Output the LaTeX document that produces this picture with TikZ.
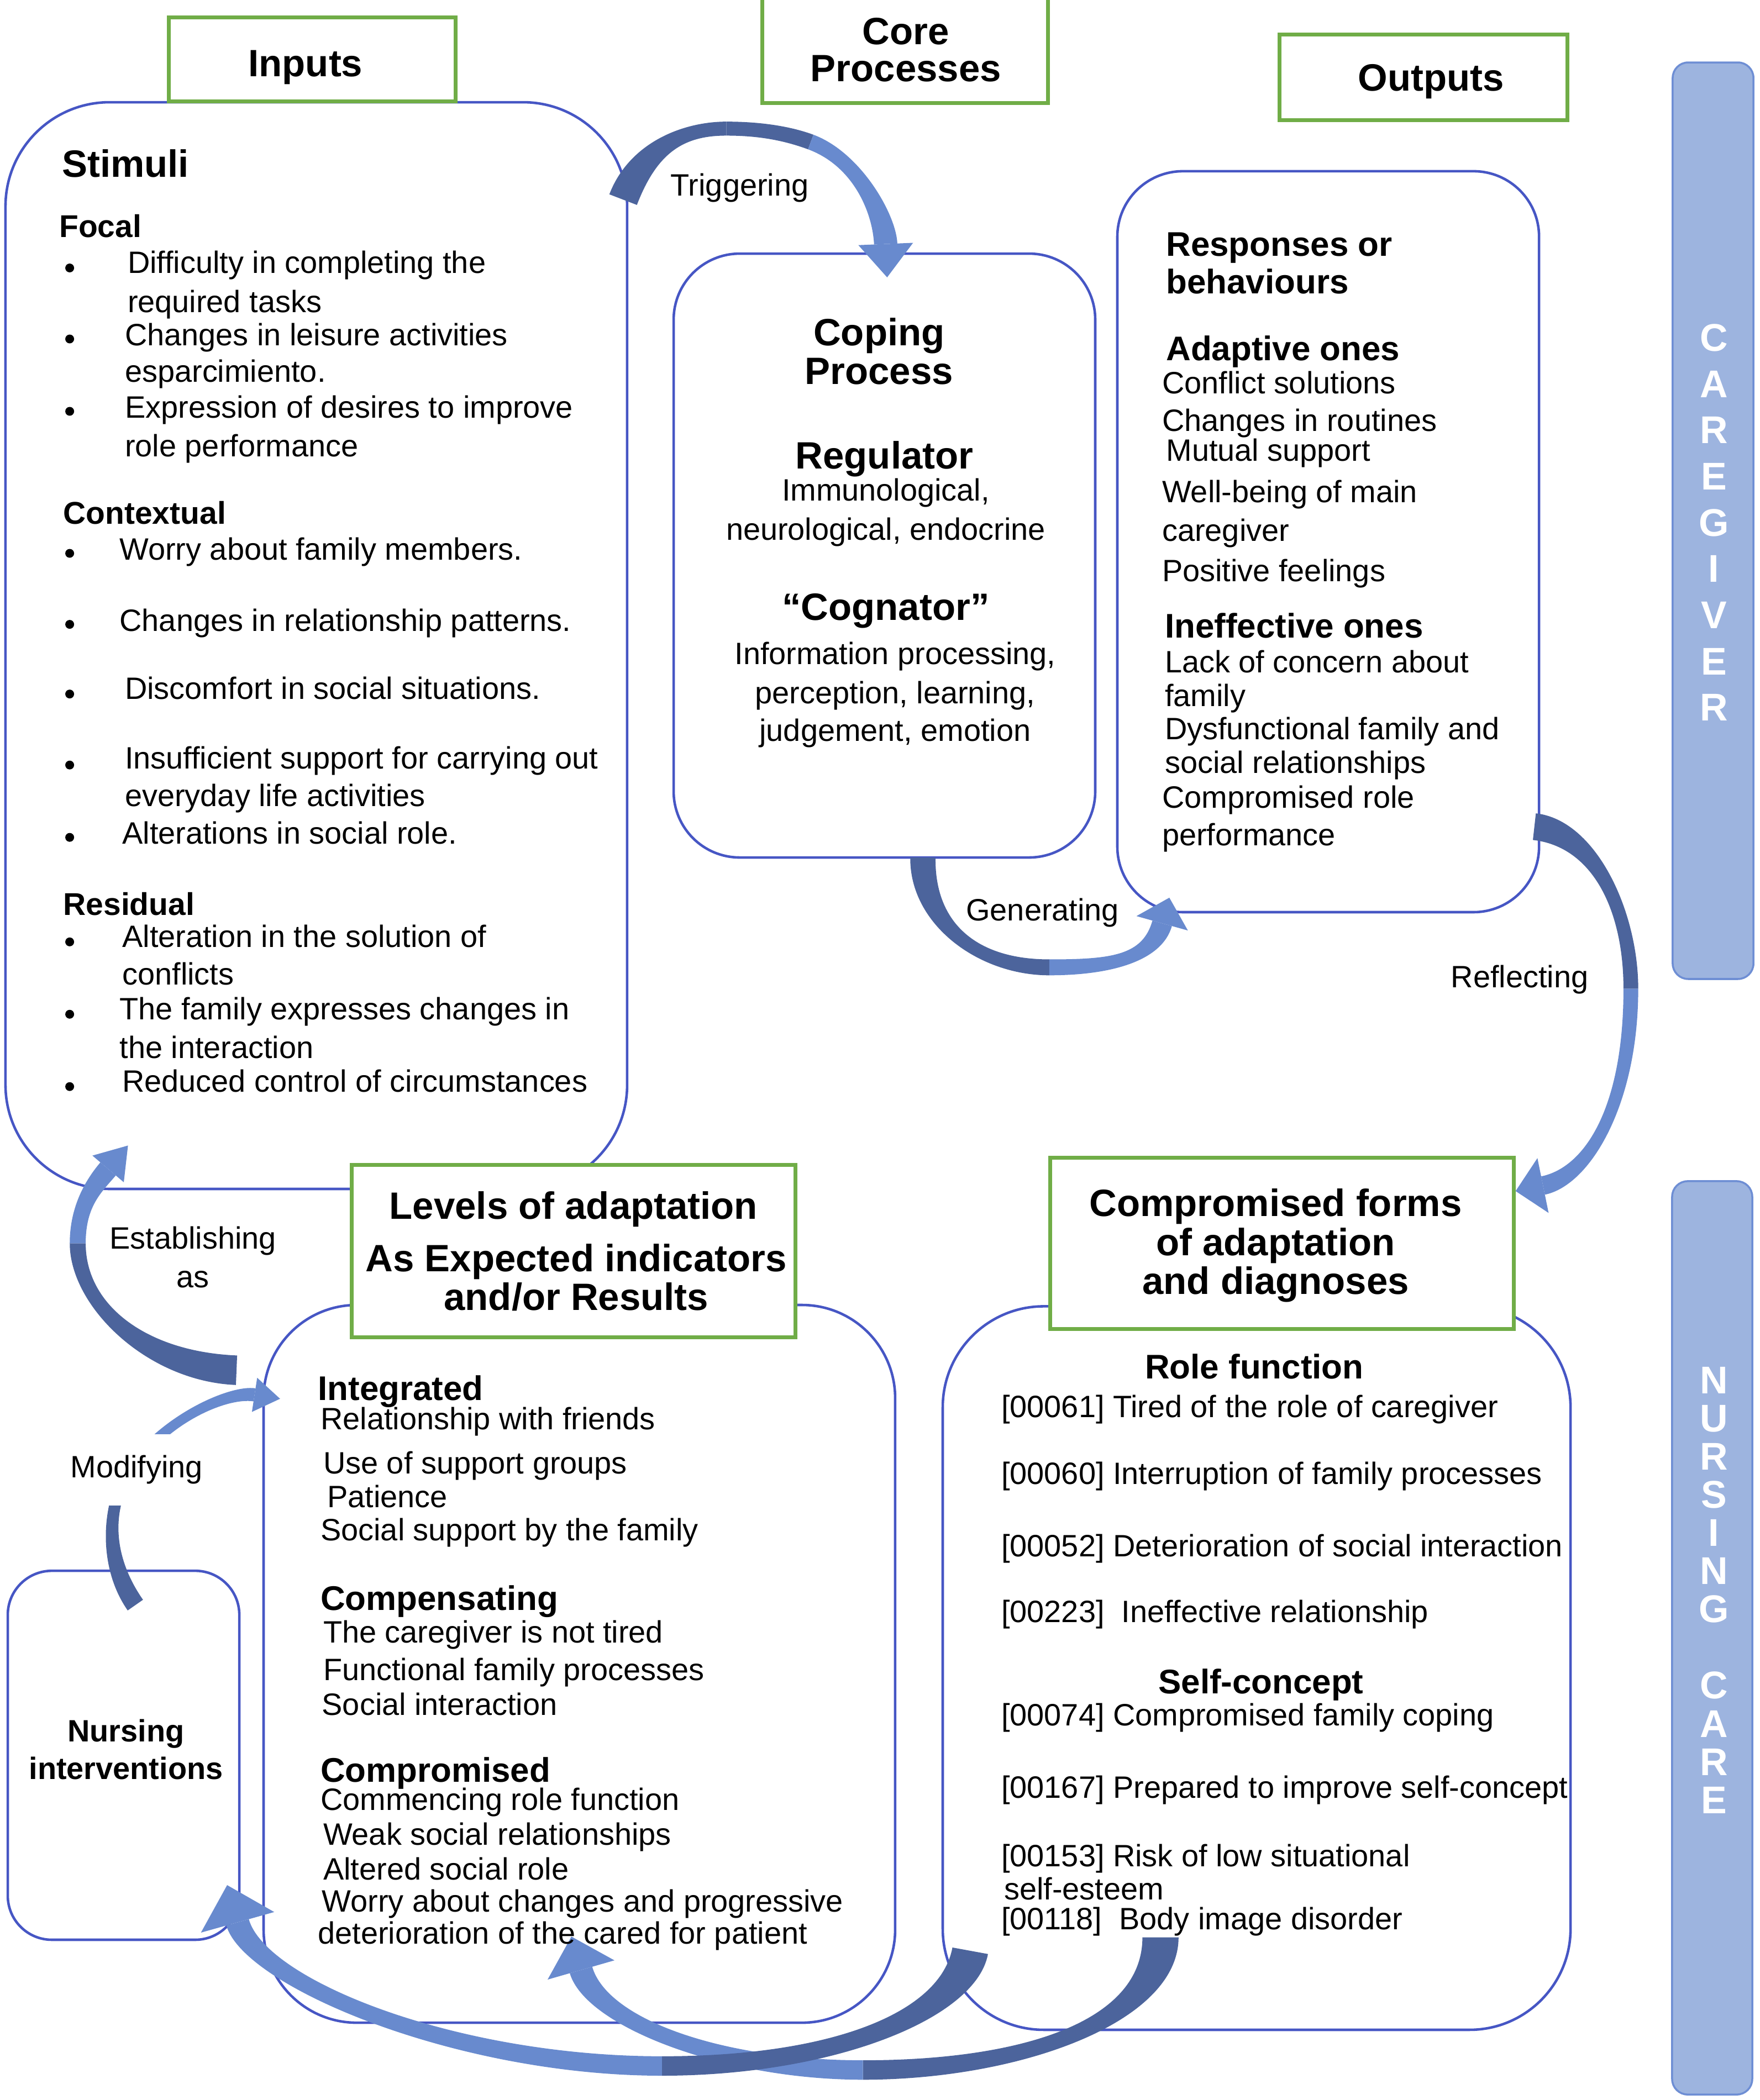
\documentclass[tikz,border=0pt]{standalone}
\usepackage{fontspec}
\setmainfont{Liberation Sans}
\usetikzlibrary{arrows.meta,fit,calc}
\definecolor{boxblue}{RGB}{70,86,196}
\definecolor{grn}{RGB}{112,173,71}
\definecolor{adark}{RGB}{76,100,156}
\definecolor{alight}{RGB}{104,138,206}
\definecolor{barfill}{RGB}{157,180,223}
\definecolor{barline}{RGB}{110,142,212}
\newcommand\fbody{\fontsize{15.9}{19}\selectfont}
\newcommand\fsub{\fontsize{17.6}{21}\selectfont\bfseries}
\newcommand\fhead{\fontsize{19.6}{23}\selectfont\bfseries}
\newcommand\fsh{\fontsize{16.2}{19}\selectfont\bfseries}
\newcommand\fbar{\fontsize{19.9}{23}\selectfont\bfseries}
% tapered band along a cubic curve: P0, P1, P2, P3, half-width start, half-width end, colour
\newcommand\band[7]{%
  \coordinate (b0) at (#1); \coordinate (b1) at (#2);
  \coordinate (b2) at (#3); \coordinate (b3) at (#4);
  \coordinate (o0) at ($(b0)!#5!90:(b1)$);
  \coordinate (i0) at ($(b0)!#5!-90:(b1)$);
  \coordinate (o3) at ($(b3)!#6!-90:(b2)$);
  \coordinate (i3) at ($(b3)!#6!90:(b2)$);
  \fill[#7] (o0) .. controls ($(b1)+(o0)-(b0)$) and ($(b2)+(o3)-(b3)$) .. (o3)
    -- (i3) .. controls ($(b2)+(i3)-(b3)$) and ($(b1)+(i0)-(b0)$) .. (i0) -- cycle;}
% arrow head: tip, point it comes from, length, half-width, colour; defines (hc)
\newcommand\ahead[5]{%
  \coordinate (hc) at ($(#1)!#3!(#2)$);
  \fill[#5] (#1) -- ($(hc)!#4!90:(#1)$) -- ($(hc)!#4!-90:(#1)$) -- cycle;}
\begin{document}
\begin{tikzpicture}[x=0.2425mm,y=-0.2425mm,
  bbox/.style={draw=boxblue,line width=1.3pt,inner sep=0pt},
  gbox/.style={draw=grn,line width=2pt,fill=white,inner sep=0pt},
  barbox/.style={draw=barline,fill=barfill,line width=1pt,inner sep=0pt,rounded corners=8pt},
  barl/.style={inner sep=0pt,anchor=base,font=\fbar,text=white},
  tl/.style={inner sep=0pt,anchor=base west,font=\fbody},
  tc/.style={inner sep=0pt,anchor=base,font=\fbody},
  sl/.style={inner sep=0pt,anchor=base west,font=\fsub},
  sc/.style={inner sep=0pt,anchor=base,font=\fsub},
  hl/.style={inner sep=0pt,anchor=base west,font=\fhead},
  hc/.style={inner sep=0pt,anchor=base,font=\fhead},
  ml/.style={inner sep=0pt,anchor=base west,font=\fsh},
  bul/.style={fill=black}
]
\useasboundingbox (0,0) rectangle (1313,1567.4);

% side bars
\node[barbox, fit={(1248.2,46.6) (1308.5,730.7)}] (cgbar) {};
\node[barbox, fit={(1247.8,881.6) (1307.6,1563.3)}] (ncbar) {};
\foreach \l [count=\i] in {C,A,R,E,G,I,V,E,R}
  \node[barl] (cg\i) at (1279,{262+34.5*(\i-1)}) {\l};
\foreach \l [count=\i] in {N,U,R,S,I,N,G}
  \node[barl] (nu\i) at (1279,{1040+28.5*(\i-1)}) {\l};
\foreach \l [count=\i] in {C,A,R,E}
  \node[barl] (ca\i) at (1279,{1268+28.5*(\i-1)}) {\l};

% blue rounded boxes
\node[bbox, rounded corners=53.6pt, fit={(4.1,76.3) (468,887.4)}] (stim) {};
\node[bbox, rounded corners=34pt, fit={(502.7,189.3) (817.3,640)}] (cope) {};
\node[bbox, rounded corners=33.7pt, fit={(833.8,127.8) (1148.5,680.8)}] (resp) {};
\node[bbox, rounded corners=48pt, fit={(196.7,974) (668,1509.7)}] (levl) {};
\node[bbox, rounded corners=52pt, fit={(703.5,975) (1172,1515)}] (comp) {};
\node[bbox, rounded corners=22.7pt, fit={(5.8,1172.4) (178.6,1447.8)}] (nurs) {};

% green header boxes
\node[gbox, fit={(125.8,12.8) (339.8,75.5)}] (inbox) {};
\node[gbox, fit={(568.7,-4) (781.9,76.9)}] (corebox) {};
\node[gbox, fit={(955,25.6) (1169.6,89.5)}] (outbox) {};
\node[gbox, fit={(262.3,869.3) (593.4,998)}] (lvlg) {};
\node[gbox, fit={(783.5,863.9) (1129.5,991.8)}] (compg) {};

% Triggering arrow
\coordinate (tgA) at (465,149); \coordinate (tgT) at (542,96);
\coordinate (tgM) at (605,106); \coordinate (tgB) at (662,207);
\band{tgA}{480,110}{510,96}{tgT}{7.6pt}{3.6pt}{adark}
\band{tgT}{565,96}{586,99}{tgM}{3.6pt}{4pt}{adark}
\ahead{tgB}{660,160}{17.2pt}{14.1pt}{alight}
\band{tgM}{640,119}{660,160}{hc}{4pt}{6pt}{alight}

% Generating arrow
\coordinate (gnA) at (688.7,640); \coordinate (gnM) at (783,722); \coordinate (gnB) at (872.6,670);
\band{gnA}{688,690}{730,722}{gnM}{6.5pt}{4.1pt}{adark}
\ahead{gnB}{860,715}{13.7pt}{13.75pt}{alight}
\band{gnM}{830,722}{860,715}{hc}{4.1pt}{5.2pt}{alight}

% Reflecting arrow
\coordinate (rfA) at (1145,617); \coordinate (rfM) at (1217,738); \coordinate (rfB) at (1131,889);
\band{rfA}{1190,622}{1217,680}{rfM}{6.9pt}{3.8pt}{adark}
\ahead{rfB}{1185,878}{14.4pt}{14.4pt}{alight}
\band{rfM}{1217,825}{1185,878}{hc}{3.8pt}{4.8pt}{alight}

% Establishing arrow
\coordinate (esA) at (176.5,1022.7); \coordinate (esM) at (58,928); \coordinate (esB) at (95.5,855);
\band{esA}{110,1020}{58,975}{esM}{7.6pt}{4.1pt}{adark}
\ahead{esB}{70,885}{15.8pt}{10.6pt}{alight}
\band{esM}{58,900}{70,885}{hc}{4.1pt}{5.2pt}{alight}

% Modifying arrow
\coordinate (mdA) at (101,1198); \coordinate (mdM) at (95,1100); \coordinate (mdB) at (209,1044);
\band{mdA}{78,1165}{80,1125}{mdM}{4.8pt}{3.1pt}{adark}
\ahead{mdB}{170,1038}{13.3pt}{8.9pt}{alight}
\band{mdM}{120,1060}{170,1038}{hc}{2.8pt}{3.4pt}{alight}

% bottom arrows
\coordinate (f2A) at (866,1446); \coordinate (f2M) at (644,1545); \coordinate (f2B) at (426.4,1445.4);
\band{f2A}{866,1510}{760,1545}{f2M}{9.3pt}{5pt}{adark}
\ahead{f2B}{445,1510}{17.9pt}{17.9pt}{alight}
\band{f2M}{540,1545}{445,1510}{hc}{5pt}{6pt}{alight}

\coordinate (f1A) at (724,1456); \coordinate (f1M) at (494,1542); \coordinate (f1B) at (169.5,1407);
\band{f1A}{715,1505}{620,1542}{f1M}{9.3pt}{5pt}{adark}
\ahead{f1B}{190,1480}{19.9pt}{19.6pt}{alight}
\band{f1M}{340,1542}{190,1480}{hc}{5pt}{6pt}{alight}

% arrow labels
\node[tc] (lTrig) at (552,146) {Triggering};
\node[tc] (lGen) at (778,687) {Generating};
\node[tc] (lRefl) at (1134,737) {Reflecting};
\node[tc] (lEst1) at (144,932) {Establishing};
\node[tc] (lEst2) at (144,961) {as};
\node[tc,fill=white,inner ysep=11pt,inner xsep=3pt] (lMod) at (102,1103) {Modifying};

% headers
\node[hc] (tIn) at (228,57) {Inputs};
\node[hc] (tCore1) at (676,33) {Core};
\node[hc] (tCore2) at (676,61) {Processes};
\node[hc] (tOut) at (1068,68) {Outputs};

% stimuli box
\node[hl] (sTitle) at (46,132) {Stimuli};
\node[ml] (sFoc) at (44,177) {Focal};
\node[tl] (s1) at (95,204) {Difficulty in completing the};
\node[tl] (s2) at (95,233) {required tasks};
\node[tl] (s3) at (93,258) {Changes in leisure activities};
\node[tl] (s4) at (93,285) {esparcimiento.};
\node[tl] (s5) at (93,312) {Expression of desires to improve};
\node[tl] (s6) at (93,341) {role performance};
\node[ml] (sCon) at (47,391) {Contextual};
\node[tl] (s7) at (89,418) {Worry about family members.};
\node[tl] (s8) at (89,471) {Changes in relationship patterns.};
\node[tl] (s9) at (93,522) {Discomfort in social situations.};
\node[tl] (s10) at (93,574) {Insufficient support for carrying out};
\node[tl] (s11) at (93,602) {everyday life activities};
\node[tl] (s12) at (91,630) {Alterations in social role.};
\node[ml] (sRes) at (47,683) {Residual};
\node[tl] (s13) at (91,707) {Alteration in the solution of};
\node[tl] (s14) at (91,735) {conflicts};
\node[tl] (s15) at (89,761) {The family expresses changes in};
\node[tl] (s16) at (89,790) {the interaction};
\node[tl] (s17) at (91,815) {Reduced control of circumstances};
\foreach \yy in {200,253,307,413,466,518,571,625,703,757,811}
  \fill[bul] (52,\yy) circle (3.3);

% coping box
\node[hc] (c1) at (656,258) {Coping};
\node[hc] (c2) at (656,287) {Process};
\node[hc] (c3) at (660,350) {Regulator};
\node[tc] (c4) at (661,374) {Immunological,};
\node[tc] (c5) at (661,403) {neurological, endocrine};
\node[hc] (c6) at (661,463) {“Cognator”};
\node[tc] (c7) at (668,496) {Information processing,};
\node[tc] (c8) at (668,525) {perception, learning,};
\node[tc] (c9) at (668,553) {judgement, emotion};

% responses box
\node[sl] (r1) at (870,191) {Responses or};
\node[sl] (r2) at (870,219) {behaviours};
\node[sl] (r3) at (870,269) {Adaptive ones};
\node[tl] (r4) at (867,294) {Conflict solutions};
\node[tl] (r5) at (867,322) {Changes in routines};
\node[tl] (r6) at (870,344) {Mutual support};
\node[tl] (r7) at (867,375) {Well-being of main};
\node[tl] (r8) at (867,404) {caregiver};
\node[tl] (r9) at (867,434) {Positive feelings};
\node[sl] (r10) at (869,476) {Ineffective ones};
\node[tl] (r11) at (869,502) {Lack of concern about};
\node[tl] (r12) at (869,527) {family};
\node[tl] (r13) at (869,552) {Dysfunctional family and};
\node[tl] (r14) at (869,577) {social relationships};
\node[tl] (r15) at (867,603) {Compromised role};
\node[tl] (r16) at (867,631) {performance};

% levels green
\node[hc] (g1) at (428,910) {Levels of adaptation};
\node[hc] (g2) at (430,949) {As Expected indicators};
\node[hc] (g3) at (430,978) {and/or Results};
% compromised green
\node[hc] (h1) at (952,908) {Compromised forms};
\node[hc] (h2) at (952,937) {of adaptation};
\node[hc] (h3) at (952,966) {and diagnoses};

% levels box
\node[sl] (v1) at (237,1045) {Integrated};
\node[tl] (v2) at (239,1067) {Relationship with friends};
\node[tl] (v3) at (241,1100) {Use of support groups};
\node[tl] (v4) at (244,1125) {Patience};
\node[tl] (v5) at (239,1150) {Social support by the family};
\node[sl] (v6) at (239,1202) {Compensating};
\node[tl] (v7) at (241,1226) {The caregiver is not tired};
\node[tl] (v8) at (241,1254) {Functional family processes};
\node[tl] (v9) at (240,1280) {Social interaction};
\node[sl] (v10) at (239,1330) {Compromised};
\node[tl] (v11) at (239,1351) {Commencing role function};
\node[tl] (v12) at (241,1377) {Weak social relationships};
\node[tl] (v13) at (241,1403) {Altered social role};
\node[tl] (v14) at (240,1427) {Worry about changes and progressive};
\node[tl] (v15) at (237,1451) {deterioration of the cared for patient};

% compromised box
\node[sc] (d1) at (936,1029) {Role function};
\node[tl] (d2) at (747,1058) {[00061] Tired of the role of caregiver};
\node[tl] (d3) at (747,1108) {[00060] Interruption of family processes};
\node[tl] (d4) at (747,1162) {[00052] Deterioration of social interaction};
\node[tl] (d5) at (747,1211) {[00223]\ \ Ineffective relationship};
\node[sc] (d6) at (941,1264) {Self-concept};
\node[tl] (d7) at (747,1288) {[00074] Compromised family coping};
\node[tl] (d8) at (747,1342) {[00167] Prepared to improve self-concept};
\node[tl] (d9) at (747,1393) {[00153] Risk of low situational};
\node[tl] (d10) at (749,1418) {self-esteem};
\node[tl] (d11) at (747,1440) {[00118]\ \ Body image disorder};

% nursing interventions
\node[tc,font=\fbody\bfseries] (n1) at (94,1300) {Nursing};
\node[tc,font=\fbody\bfseries] (n2) at (94,1328) {interventions};
\end{tikzpicture}
\end{document}
